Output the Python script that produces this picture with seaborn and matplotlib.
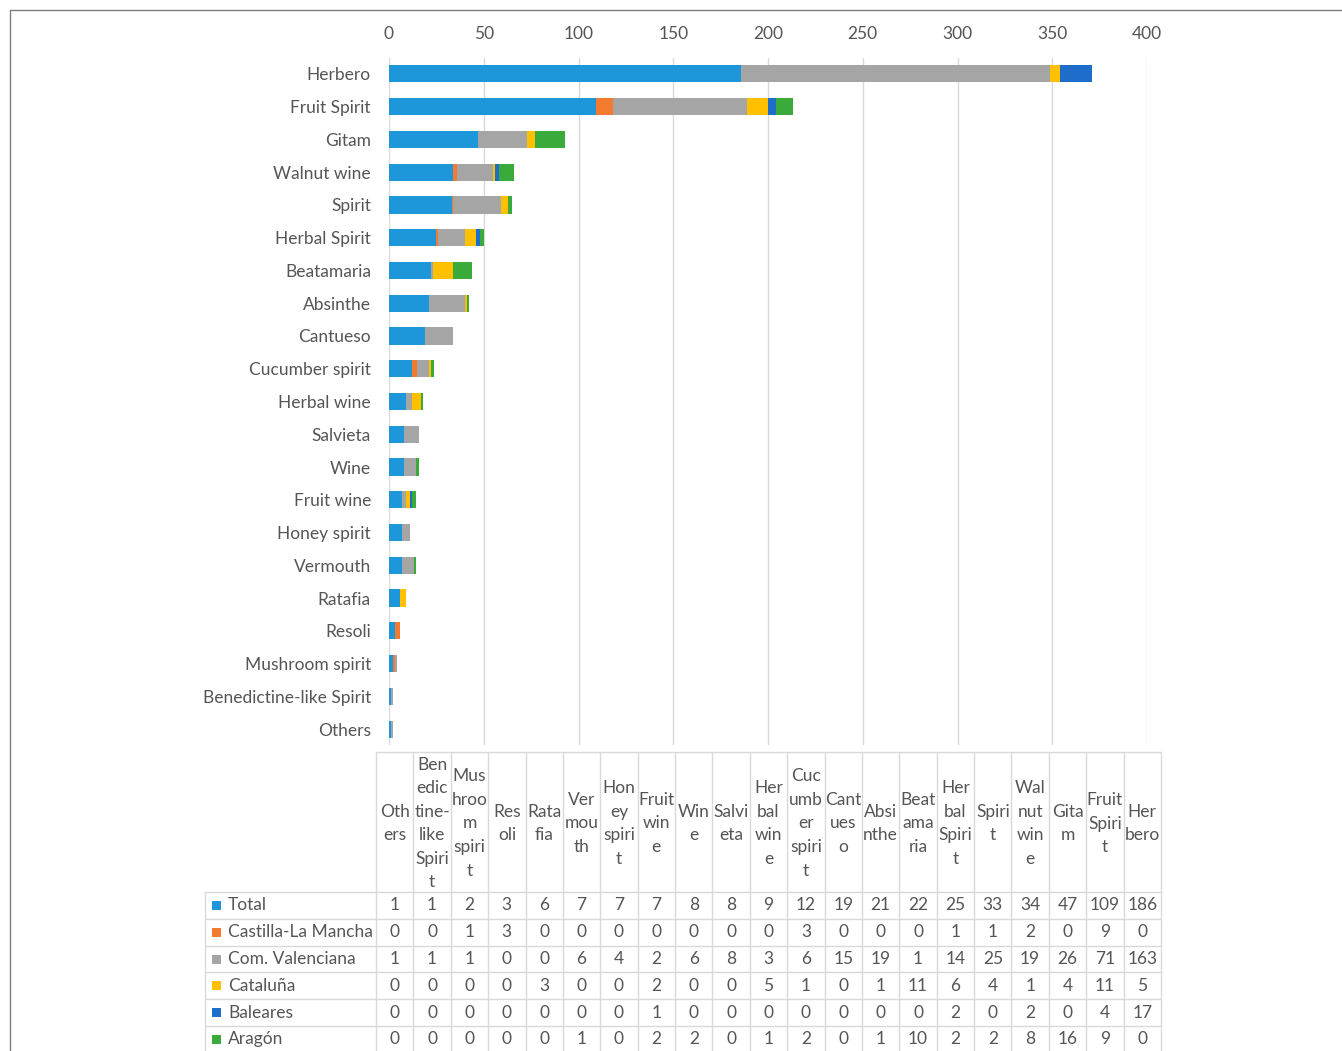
import numpy as np
import pandas as pd
import matplotlib
matplotlib.use("Agg")
import matplotlib.pyplot as plt
from matplotlib.lines import Line2D
from matplotlib.patches import Rectangle
import seaborn as sns

# ---------------- data ----------------
categories = ["Others", "Benedictine-like Spirit", "Mushroom spirit", "Resoli", "Ratafia",
              "Vermouth", "Honey spirit", "Fruit wine", "Wine", "Salvieta", "Herbal wine",
              "Cucumber spirit", "Cantueso", "Absinthe", "Beatamaria", "Herbal Spirit",
              "Spirit", "Walnut wine", "Gitam", "Fruit Spirit", "Herbero"]
header_labels = ["Oth\ners", "Ben\nedic\ntine-\nlike\nSpiri\nt", "Mus\nhroo\nm\nspiri\nt",
                 "Res\noli", "Rata\nfia", "Ver\nmou\nth", "Hon\ney\nspiri\nt", "Fruit\nwin\ne",
                 "Win\ne", "Salvi\neta", "Her\nbal\nwin\ne", "Cuc\numb\ner\nspiri\nt",
                 "Cant\nues\no", "Absi\nnthe", "Beat\nama\nria", "Her\nbal\nSpiri\nt",
                 "Spiri\nt", "Wal\nnut\nwin\ne", "Gita\nm", "Fruit\nSpiri\nt", "Her\nbero"]
total      = [1, 1, 2, 3, 6, 7, 7, 7, 8, 8, 9, 12, 19, 21, 22, 25, 33, 34, 47, 109, 186]
castilla   = [0, 0, 1, 3, 0, 0, 0, 0, 0, 0, 0, 3, 0, 0, 0, 1, 1, 2, 0, 9, 0]
valenciana = [1, 1, 1, 0, 0, 6, 4, 2, 6, 8, 3, 6, 15, 19, 1, 14, 25, 19, 26, 71, 163]
cataluna   = [0, 0, 0, 0, 3, 0, 0, 2, 0, 0, 5, 1, 0, 1, 11, 6, 4, 1, 4, 11, 5]
baleares   = [0, 0, 0, 0, 0, 0, 0, 1, 0, 0, 0, 0, 0, 0, 0, 2, 0, 2, 0, 4, 17]
aragon     = [0, 0, 0, 0, 0, 1, 0, 2, 2, 0, 1, 2, 0, 1, 10, 2, 2, 8, 16, 9, 0]
series_names = ["Total", "Castilla-La Mancha", "Com. Valenciana", "Cataluña", "Baleares", "Aragón"]
colors = ["#1E96DA", "#F47A2F", "#A5A5A5", "#FFC000", "#1F6DCB", "#3AAA3A"]
x_ticks = [0, 50, 100, 150, 200, 250, 300, 350, 400]

# ---------------- style ----------------
sns.set_theme(style="white")
plt.rcParams['font.family'] = ['Lato', 'DejaVu Sans']
TXT = "#555555"
GRID = "#D9D9D9"
FS = 12.5

W, H = 1342, 1051
fig = plt.figure(figsize=(W / 100, H / 100), dpi=100)

ax_top, ax_bot = 57.6, 745.4
ax = fig.add_axes([389 / W, 1 - ax_bot / H, 758 / W, (ax_bot - ax_top) / H])

series = [total, castilla, valenciana, cataluna, baleares, aragon]
cum = np.cumsum(np.array(series), axis=0)
plot_order = categories[::-1]
for i in range(len(series) - 1, -1, -1):
    d = pd.DataFrame({"cat": categories, "val": cum[i]})
    sns.barplot(data=d, x="val", y="cat", order=plot_order, orient="h",
                color=colors[i], saturation=1, width=0.52, linewidth=0,
                errorbar=None, ax=ax)

ax.set_xlim(0, 400)
ax.set_xticks(x_ticks)
ax.set_xticklabels([str(t) for t in x_ticks])
ax.xaxis.tick_top()
ax.set_xlabel("")
ax.set_ylabel("")
ax.grid(axis="x", color=GRID, linewidth=1)
ax.grid(axis="y", visible=False)
ax.set_axisbelow(True)
for s in ax.spines.values():
    s.set_visible(False)
ax.tick_params(axis="x", length=0, pad=11, labelsize=FS, labelcolor=TXT)
ax.tick_params(axis="y", length=0, pad=13, labelsize=FS, labelcolor=TXT)

# ---------------- data table ----------------
tab = fig.add_axes([0, 0, 1, 1])
tab.set_xlim(0, W)
tab.set_ylim(H, 0)
tab.axis("off")
tab.patch.set_alpha(0)

lab_x0, col_x0, col_x1 = 205, 376, 1161
head_y0, head_y1 = 752, 892
rowh = 26.8
ncol = len(categories)
cw = (col_x1 - col_x0) / ncol
nrow = len(series)
bottom = head_y1 + nrow * rowh

lk = dict(color=GRID, linewidth=1)
tab.add_line(Line2D([col_x0, col_x1], [head_y0, head_y0], **lk))
for r in range(nrow + 1):
    y = head_y1 + r * rowh
    tab.add_line(Line2D([lab_x0, col_x1], [y, y], **lk))
tab.add_line(Line2D([lab_x0, lab_x0], [head_y1, bottom], **lk))
for c in range(ncol + 1):
    x = col_x0 + c * cw
    tab.add_line(Line2D([x, x], [head_y0, bottom], **lk))

for c, lab in enumerate(header_labels):
    tab.text(col_x0 + (c + 0.5) * cw, (head_y0 + head_y1) / 2 + 1.5, lab,
             ha="center", va="center", fontsize=FS, color=TXT, linespacing=1.58)

for r, (name, vals) in enumerate(zip(series_names, series)):
    yc = head_y1 + (r + 0.5) * rowh
    tab.add_patch(Rectangle((212, yc - 4.5), 9, 9, color=colors[r], linewidth=0))
    tab.text(228, yc, name, ha="left", va="center", fontsize=FS, color=TXT)
    for c, v in enumerate(vals):
        tab.text(col_x0 + (c + 0.5) * cw, yc, str(v), ha="center", va="center",
                 fontsize=FS, color=TXT)

# chart area frame
tab.add_line(Line2D([10, W], [10, 10], color="#7F7F7F", linewidth=1))
tab.add_line(Line2D([10, 10], [10, H], color="#7F7F7F", linewidth=1))

fig.savefig("out.png", dpi=100, facecolor="white")
